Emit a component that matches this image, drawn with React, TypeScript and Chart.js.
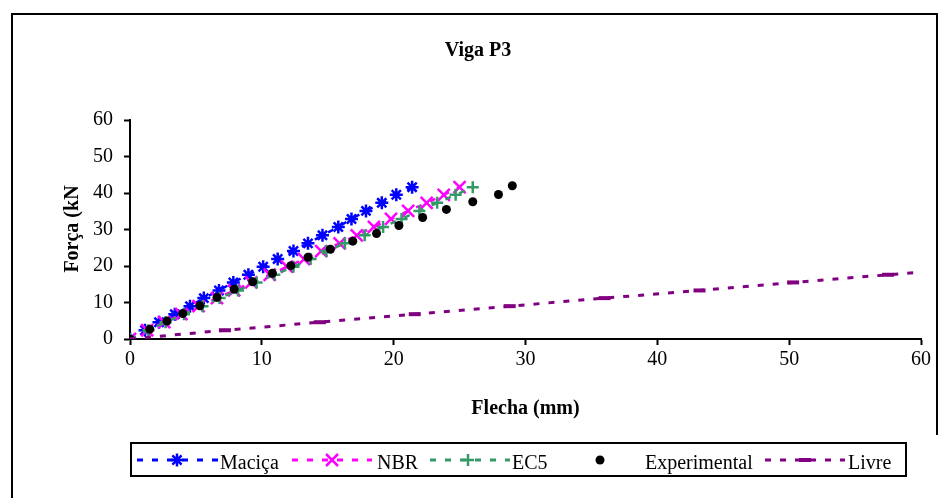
import React, { useEffect, useRef } from "react";
import { Chart, registerables } from "chart.js";

Chart.register(...registerables);

// Carga aplicada (kN) nos modelos teóricos
const forcaModelo = [0, 2.4, 4.6, 6.8, 9.0, 11.2, 13.3, 15.5, 17.6, 19.8, 21.9, 24.1, 26.2, 28.4, 30.7, 32.9, 35.1, 37.3, 39.5, 41.6];
// Flechas (mm) de cada modelo
const flechaMacica = [0, 1.14, 2.2, 3.4, 4.55, 5.6, 6.75, 7.84, 8.98, 10.1, 11.2, 12.4, 13.5, 14.6, 15.8, 16.8, 17.9, 19.1, 20.2, 21.4];
const flechaNBR = [0, 1.3, 2.6, 3.9, 5.2, 6.6, 7.9, 9.2, 10.6, 11.9, 13.2, 14.5, 15.9, 17.2, 18.5, 19.8, 21.1, 22.5, 23.8, 25.0];
const flechaEC5 = [0, 1.4, 2.7, 4.1, 5.5, 6.8, 8.2, 9.6, 10.95, 12.4, 13.7, 14.9, 16.3, 17.8, 19.2, 20.6, 21.95, 23.3, 24.7, 26.0];
// Ensaio
const forcaExperimental = [0, 2.7, 4.9, 7.0, 9.1, 11.4, 13.6, 15.7, 18.0, 20.1, 22.4, 24.6, 26.8, 28.9, 31.1, 33.3, 35.5, 37.6, 39.6, 42.0];
const flechaExperimental = [0, 1.5, 2.8, 4.0, 5.3, 6.6, 7.9, 9.3, 10.8, 12.2, 13.5, 15.2, 16.9, 18.7, 20.4, 22.2, 24.0, 26.0, 27.95, 29.0];
// Viga livre (sem ligação)
const forcaLivre = [0, 2.4, 4.6, 6.8, 9.0, 11.2, 13.3, 15.5, 17.6, 19.8];
const flechaLivre = [0, 7.2, 14.4, 21.6, 28.8, 36.0, 43.2, 50.3, 57.5, 64.7];

const xTicks = [0, 10, 20, 30, 40, 50, 60];
const yTicks = [0, 10, 20, 30, 40, 50, 60];

const titulo = "Viga P3";
const tituloX = "Flecha (mm)";
const tituloY = "Força (kN";

const AZUL = "#0000FF";
const MAGENTA = "#FF00FF";
const VERDE = "#339966";
const PRETO = "#000000";
const ROXO = "#800080";

const SERIF = "'Liberation Serif', 'Times New Roman', serif";

const pares = (xs: number[], ys: number[]) => xs.map((x, i) => ({ x, y: ys[i] }));

type Estilo = "star" | "crossRot" | "cross" | "circle" | "line";

function marcador(ctx: CanvasRenderingContext2D, estilo: Estilo, x: number, y: number, cor: string) {
  ctx.save();
  ctx.setLineDash([]);
  ctx.strokeStyle = cor;
  ctx.fillStyle = cor;
  ctx.lineWidth = 2.5;
  ctx.beginPath();
  if (estilo === "star") {
    const r = 6.5;
    const d = r * Math.SQRT1_2;
    ctx.moveTo(x - r, y); ctx.lineTo(x + r, y);
    ctx.moveTo(x, y - r); ctx.lineTo(x, y + r);
    ctx.moveTo(x - d, y - d); ctx.lineTo(x + d, y + d);
    ctx.moveTo(x - d, y + d); ctx.lineTo(x + d, y - d);
    ctx.stroke();
  } else if (estilo === "crossRot") {
    const d = 6;
    ctx.moveTo(x - d, y - d); ctx.lineTo(x + d, y + d);
    ctx.moveTo(x - d, y + d); ctx.lineTo(x + d, y - d);
    ctx.stroke();
  } else if (estilo === "cross") {
    const r = 6;
    ctx.moveTo(x - r, y); ctx.lineTo(x + r, y);
    ctx.moveTo(x, y - r); ctx.lineTo(x, y + r);
    ctx.stroke();
  } else if (estilo === "circle") {
    ctx.arc(x, y, 4.5, 0, Math.PI * 2);
    ctx.fill();
  } else {
    ctx.lineWidth = 4;
    ctx.moveTo(x - 6, y); ctx.lineTo(x + 6, y);
    ctx.stroke();
  }
  ctx.restore();
}

const itensLegenda: { nome: string; cor: string; estilo: Estilo; linha: [number, number] | null; mx: number; tx: number }[] = [
  { nome: "Maciça", cor: AZUL, estilo: "star", linha: [137, 218], mx: 177, tx: 220 },
  { nome: "NBR", cor: MAGENTA, estilo: "crossRot", linha: [292, 372], mx: 332, tx: 377 },
  { nome: "EC5", cor: VERDE, estilo: "cross", linha: [430, 510], mx: 468, tx: 512 },
  { nome: "Experimental", cor: PRETO, estilo: "circle", linha: null, mx: 600, tx: 645 },
  { nome: "Livre", cor: ROXO, estilo: "line", linha: [765, 845], mx: 805, tx: 848 },
];

const decoracao = {
  id: "decoracao",
  beforeDraw(chart: Chart) {
    const ctx = chart.ctx;
    ctx.save();
    ctx.fillStyle = "#FFFFFF";
    ctx.fillRect(0, 0, chart.width, chart.height);
    // moldura externa
    ctx.strokeStyle = "#000";
    ctx.lineWidth = 2;
    ctx.beginPath();
    ctx.moveTo(12, 498);
    ctx.lineTo(12, 14);
    ctx.lineTo(937, 14);
    ctx.lineTo(937, 435);
    ctx.stroke();
    ctx.restore();
  },
  afterDraw(chart: Chart) {
    const ctx = chart.ctx;
    const area = chart.chartArea;
    ctx.save();
    ctx.fillStyle = "#000";
    ctx.textAlign = "center";
    ctx.textBaseline = "middle";
    ctx.font = `bold 20px ${SERIF}`;
    ctx.fillText(titulo, 478, 51);
    ctx.fillText(tituloX, (area.left + area.right) / 2, 409);
    ctx.save();
    ctx.translate(73, 229);
    ctx.rotate(-Math.PI / 2);
    ctx.fillText(tituloY, 0, 0);
    ctx.restore();

    // legenda
    ctx.strokeStyle = "#000";
    ctx.lineWidth = 2;
    ctx.strokeRect(131, 443, 775, 33);
    const yl = 460;
    ctx.font = `20px ${SERIF}`;
    ctx.textAlign = "left";
    ctx.textBaseline = "alphabetic";
    for (const it of itensLegenda) {
      if (it.linha) {
        ctx.save();
        ctx.strokeStyle = it.cor;
        ctx.lineWidth = 3;
        ctx.setLineDash([6, 9]);
        ctx.beginPath();
        ctx.moveTo(it.linha[0], yl);
        ctx.lineTo(it.linha[1], yl);
        ctx.stroke();
        ctx.restore();
      }
      marcador(ctx, it.estilo, it.mx, yl, it.cor);
      ctx.fillStyle = "#000";
      ctx.fillText(it.nome, it.tx, 469);
    }
    ctx.restore();
  },
};

const serie = (label: string, xs: number[], ys: number[], cor: string, estilo: string, raio: number, ordem: number, linha = true) => ({
  label,
  data: pares(xs, ys),
  showLine: linha,
  borderColor: cor,
  backgroundColor: cor,
  borderWidth: linha ? 2.5 : 0,
  borderDash: [6, 9],
  pointStyle: estilo,
  pointRadius: raio,
  pointBorderColor: cor,
  pointBackgroundColor: cor,
  pointBorderWidth: 2.5,
  order: ordem,
});

export default function App() {
  const ref = useRef<HTMLCanvasElement | null>(null);

  useEffect(() => {
    if (!ref.current) return;
    const fonteEixo = { family: SERIF, size: 20 };
    const grade = {
      display: true,
      drawOnChartArea: false,
      drawTicks: true,
      tickLength: 6,
      tickWidth: 2,
      tickColor: "#000",
    };
    const chart = new Chart(ref.current, {
      type: "scatter",
      data: {
        datasets: [
          serie("Maciça", flechaMacica, forcaModelo, AZUL, "star", 6.5, 4),
          serie("NBR", flechaNBR, forcaModelo, MAGENTA, "crossRot", 8.5, 3),
          serie("EC5", flechaEC5, forcaModelo, VERDE, "cross", 6, 2),
          { ...serie("Experimental", flechaExperimental, forcaExperimental, PRETO, "circle", 4.5, 1, false), pointBorderWidth: 0 },
          { ...serie("Livre", flechaLivre, forcaLivre, ROXO, "line", 6, 0), borderWidth: 3, pointBorderWidth: 4 },
        ] as any,
      },
      plugins: [decoracao],
      options: {
        responsive: false,
        animation: false,
        devicePixelRatio: 1,
        layout: { padding: { top: 120, right: 30, left: 0, bottom: 0 }, autoPadding: false },
        plugins: {
          legend: { display: false },
          tooltip: { enabled: false },
          title: { display: false },
        },
        scales: {
          x: {
            type: "linear",
            min: 0,
            max: 60,
            afterBuildTicks: (s: any) => { s.ticks = xTicks.map((v) => ({ value: v })); },
            afterFit: (s: any) => { s.height = 159; },
            ticks: { color: "#000", font: fonteEixo, padding: 3, maxRotation: 0 },
            grid: grade,
            border: { display: true, color: "#000", width: 2 },
          },
          y: {
            type: "linear",
            min: 0,
            max: 60,
            afterBuildTicks: (s: any) => { s.ticks = yTicks.map((v) => ({ value: v })); },
            afterFit: (s: any) => { s.width = 130; },
            ticks: { color: "#000", font: fonteEixo, padding: 11 },
            grid: grade,
            border: { display: true, color: "#000", width: 2 },
          },
        },
      } as any,
    });
    return () => chart.destroy();
  }, []);

  return (
    <div style={{ position: "fixed", left: 0, top: 0, width: 951, height: 498, background: "#fff" }}>
      <canvas ref={ref} width={951} height={498} style={{ display: "block" }} />
    </div>
  );
}
